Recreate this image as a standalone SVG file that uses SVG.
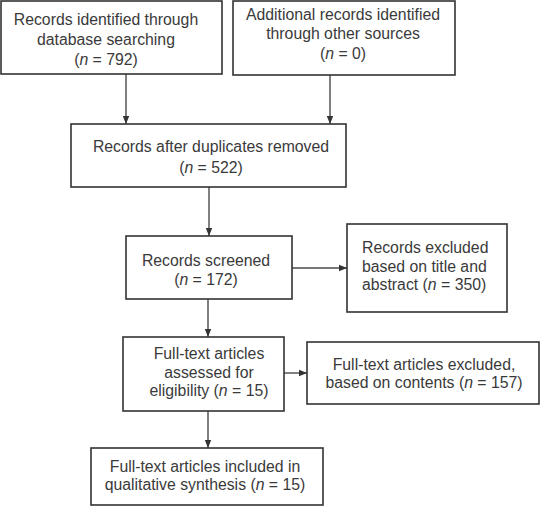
<svg xmlns="http://www.w3.org/2000/svg" width="540" height="506" viewBox="0 0 540 506">
<defs>
<marker id="ah" viewBox="0 0 8 8" refX="8" refY="4" markerWidth="8" markerHeight="8" markerUnits="userSpaceOnUse" orient="auto">
<path d="M0,0.8 L8,4 L0,7.2 Z" fill="#333"/>
</marker>
<style>
.box{fill:#fff;stroke:#333;stroke-width:1.6}
.t{font-family:"Liberation Sans",Arial,sans-serif;font-size:15.8px;fill:#3a3a3a;text-anchor:middle}
.l{text-anchor:start}
.c{stroke:#4a4a4a;stroke-width:1.4;fill:none;marker-end:url(#ah)}
</style>
</defs>
<rect width="540" height="506" fill="#fff"/>
<g id="connectors">
<line class="c" x1="126" y1="74" x2="126" y2="124"/>
<line class="c" x1="330" y1="75" x2="330" y2="124"/>
<line class="c" x1="209" y1="187" x2="209" y2="236"/>
<line class="c" x1="292" y1="268" x2="347" y2="268"/>
<line class="c" x1="208" y1="299" x2="208" y2="337"/>
<line class="c" x1="284" y1="373" x2="307" y2="373"/>
<line class="c" x1="208" y1="411" x2="208" y2="448"/>
</g>
<g id="n1">
<rect class="box" x="1" y="1" width="221" height="73"/>
<text class="t" x="106" y="25">Records identified through</text>
<text class="t" x="106" y="45">database searching</text>
<text class="t" x="106" y="65">(<tspan font-style="italic">n</tspan> = 792)</text>
</g>
<g id="n2">
<rect class="box" x="233" y="1" width="222" height="74"/>
<text class="t" x="343" y="20">Additional records identified</text>
<text class="t" x="343" y="39">through other sources</text>
<text class="t" x="343" y="59">(<tspan font-style="italic">n</tspan> = 0)</text>
</g>
<g id="n3">
<rect class="box" x="71" y="124" width="275" height="63"/>
<text class="t" x="211" y="152">Records after duplicates removed</text>
<text class="t" x="211" y="173">(<tspan font-style="italic">n</tspan> = 522)</text>
</g>
<g id="n4">
<rect class="box" x="126" y="236" width="166" height="63"/>
<text class="t" x="206" y="266">Records screened</text>
<text class="t" x="206" y="285">(<tspan font-style="italic">n</tspan> = 172)</text>
</g>
<g id="n5">
<rect class="box" x="347" y="224" width="160" height="88"/>
<text class="t l" x="362" y="253">Records excluded</text>
<text class="t l" x="362" y="272">based on title and</text>
<text class="t l" x="362" y="290">abstract (<tspan font-style="italic">n</tspan> = 350)</text>
</g>
<g id="n6">
<rect class="box" x="123" y="337" width="161" height="74"/>
<text class="t" x="209" y="359">Full-text articles</text>
<text class="t" x="209" y="378">assessed for</text>
<text class="t" x="209" y="396">eligibility (<tspan font-style="italic">n</tspan> = 15)</text>
</g>
<g id="n7">
<rect class="box" x="307" y="342" width="232" height="62"/>
<text class="t" x="424" y="370">Full-text articles excluded,</text>
<text class="t" x="424" y="388">based on contents (<tspan font-style="italic">n</tspan> = 157)</text>
</g>
<g id="n8">
<rect class="box" x="91" y="448" width="232" height="57"/>
<text class="t" x="205" y="472">Full-text articles included in</text>
<text class="t" x="205" y="490">qualitative synthesis (<tspan font-style="italic">n</tspan> = 15)</text>
</g>
</svg>
